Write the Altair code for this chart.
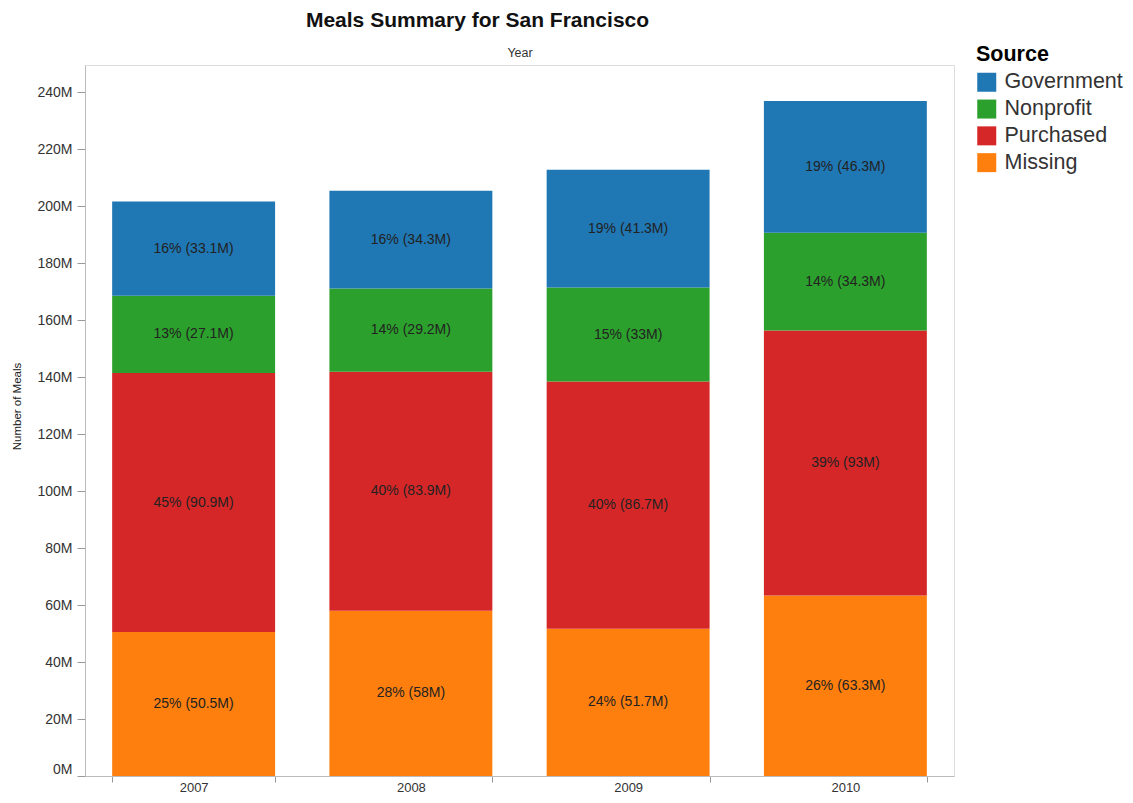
import altair as alt
import pandas as pd

years = ["2007", "2008", "2009", "2010"]
sources = ["Missing", "Purchased", "Nonprofit", "Government"]
missing = [50.5, 58, 51.7, 63.3]
purchased = [90.9, 83.9, 86.7, 93]
nonprofit = [27.1, 29.2, 33, 34.3]
government = [33.1, 34.3, 41.3, 46.3]

legend_order = ["Government", "Nonprofit", "Purchased", "Missing"]
colors = ["#1f77b4", "#2ca02c", "#d62728", "#ff7f0e"]
y_ticks = [0, 20, 40, 60, 80, 100, 120, 140, 160, 180, 200, 220, 240]

series = {"Missing": missing, "Purchased": purchased,
          "Nonprofit": nonprofit, "Government": government}
rows = []
for i, y in enumerate(years):
    for k, s in enumerate(sources):
        rows.append({"year": y, "source": s, "order": k, "value": series[s][i]})
df = pd.DataFrame(rows)

FONT = "Liberation Sans"

base = (
    alt.Chart(df)
    .transform_joinaggregate(total="sum(value)", groupby=["year"])
    .transform_calculate(
        label="floor(datum.value / datum.total * 100) + '% (' + datum.value + 'M)'"
    )
    .transform_stack(
        stack="value", groupby=["year"], as_=["y0", "y1"],
        sort=[alt.SortField("order", order="ascending")],
    )
    .transform_calculate(mid="(datum.y0 + datum.y1) / 2")
)

xscale = alt.Scale(paddingInner=0.25, paddingOuter=0.125)
yscale = alt.Scale(domain=[0, 249.5], nice=False, zero=True)

bars = base.mark_bar().encode(
    x=alt.X("year:N", scale=xscale,
            axis=alt.Axis(orient="bottom", title=None, tickBand="extent",
                          labelAngle=0, labelFontSize=13, labelColor="#333333",
                          labelFont=FONT, tickSize=6, tickColor="#999999",
                          labelBaseline="middle",
                          domainColor="#bbbbbb", labelPadding=5, grid=False)),
    y=alt.Y("y0:Q", scale=yscale,
            axis=alt.Axis(values=y_ticks, labelExpr="datum.value + 'M'",
                          title="Number of Meals", titleFont=FONT,
                          titleFontSize=11.5, titleFontWeight="normal",
                          titleColor="#222222", titleAngle=-90,
                          titleX=-68, titleY=341, titleBaseline="middle",
                          titleAlign="center",
                          labelFont=FONT, labelFontSize=14,
                          labelColor="#333333", tickSize=8, tickColor="#999999",
                          labelFlush=True,
                          domainColor="#bbbbbb", labelPadding=5, grid=False)),
    y2="y1:Q",
    color=alt.Color("source:N",
                    scale=alt.Scale(domain=legend_order, range=colors),
                    legend=alt.Legend(title="Source", orient="none",
                                      legendX=891, legendY=-21,
                                      titleFont=FONT, titleFontSize=21.5,
                                      titleFontWeight="bold", titleColor="#000000",
                                      labelFont=FONT, labelFontSize=21.5,
                                      labelColor="#333333",
                                      symbolType="square", symbolSize=361,
                                      symbolStrokeWidth=0, symbolOpacity=1,
                                      rowPadding=3.8, labelOffset=7,
                                      titlePadding=6, labelLimit=300)),
)

text = base.mark_text(font=FONT, fontSize=14, color="#222222").encode(
    x=alt.X("year:N", scale=xscale,
            axis=alt.Axis(orient="top", title="Year", titleFont=FONT,
                          titleFontSize=12.5, titleFontWeight="normal",
                          titleColor="#333333", labels=False, ticks=False,
                          domain=False, titlePadding=6, grid=False)),
    y=alt.Y("mid:Q", scale=yscale),
    text="label:N",
)

chart = (
    alt.layer(bars, text)
    .resolve_axis(x="independent")
    .properties(
        width=869, height=711,
        autosize=alt.AutoSizeParams(type="none"),
        padding={"left": 77, "top": 57, "right": 170, "bottom": 19},
        title=alt.TitleParams("Meals Summary for San Francisco", font=FONT,
                              fontSize=21, fontWeight="bold", color="#111111",
                              anchor="middle", dx=-42, offset=13),
    )
    .configure_view(stroke="#c8c8c8", strokeWidth=1.5)
    .configure(background="white")
)

chart.save("out.html", embed_options={"renderer": "svg", "actions": False})
